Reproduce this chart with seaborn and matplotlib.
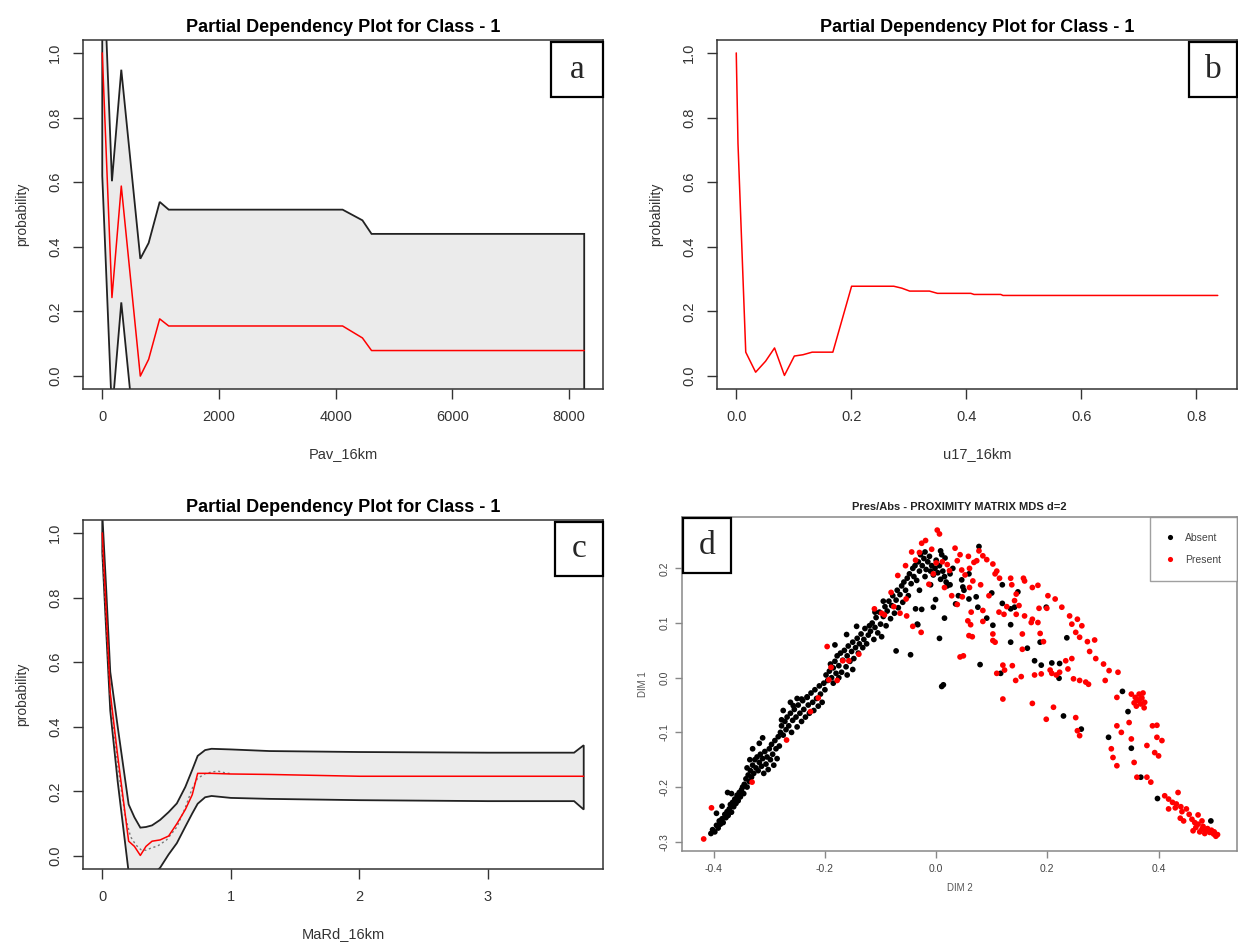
# Partial dependency plots (a-c) and proximity MDS scatter (d)
import numpy as np
import pandas as pd
import matplotlib
matplotlib.use("Agg")
import matplotlib.pyplot as plt
from matplotlib.patches import Rectangle
import seaborn as sns

# ---- panel a : Pav_16km
pav_x = [0, 166, 326, 652, 795, 984, 1139, 4118, 4458, 4614, 8258]
pav_mean = [1.0, 0.243, 0.588, 0.0, 0.052, 0.177, 0.155, 0.155, 0.118, 0.079, 0.079]
pav_upper = [1.38, 0.603, 0.948, 0.363, 0.412, 0.539, 0.515, 0.515, 0.482, 0.44, 0.44]
pav_lower = [0.62, -0.117, 0.228, -0.363, -0.308, -0.185, -0.205, -0.205, -0.246, -0.282, -0.282]

# ---- panel b : u17_16km
u17_x = [0, 0.003, 0.0165, 0.0337, 0.051, 0.0666, 0.0838, 0.101, 0.116, 0.132, 0.168, 0.2006,
         0.274, 0.288, 0.3016, 0.336, 0.35, 0.408, 0.4136, 0.46, 0.464, 0.8375]
u17_mean = [1.0, 0.72, 0.074, 0.012, 0.046, 0.087, 0.002, 0.062, 0.066, 0.074, 0.074, 0.278,
            0.278, 0.272, 0.263, 0.263, 0.256, 0.256, 0.2526, 0.2526, 0.2495, 0.2495]

# ---- panel c : MaRd_16km
mard_x = [0, 0.03, 0.062, 0.12, 0.205, 0.25, 0.296, 0.34, 0.387, 0.45, 0.516, 0.58, 0.646, 0.70,
          0.742, 0.80, 0.85, 1.0, 1.3, 2.0, 3.0, 3.67, 3.745]
mard_mean = [1.0, 0.76, 0.505, 0.31, 0.046, 0.03, 0.002, 0.03, 0.046, 0.05, 0.062, 0.10, 0.144,
             0.19, 0.256, 0.256, 0.256, 0.254, 0.2526, 0.247, 0.247, 0.247, 0.247]
mard_upper = [1.06, 0.83, 0.57, 0.40, 0.16, 0.12, 0.088, 0.09, 0.095, 0.112, 0.136, 0.163, 0.214,
              0.267, 0.31, 0.328, 0.332, 0.33, 0.325, 0.322, 0.32, 0.32, 0.343]
mard_lower = [0.94, 0.70, 0.45, 0.23, -0.05, -0.08, -0.1, -0.09, -0.06, -0.036, 0.005, 0.04, 0.091,
              0.132, 0.162, 0.182, 0.186, 0.18, 0.177, 0.173, 0.17, 0.17, 0.144]
mard_dot_x = [0, 0.03, 0.062, 0.12, 0.18, 0.22, 0.26, 0.30, 0.34, 0.38, 0.43, 0.50, 0.58, 0.646,
              0.70, 0.74, 0.80, 0.85, 0.90, 0.95, 1.0]
mard_dot_y = [0.97, 0.74, 0.50, 0.28, 0.12, 0.06, 0.035, 0.02, 0.018, 0.025, 0.031, 0.05, 0.09, 0.15,
              0.21, 0.24, 0.255, 0.26, 0.263, 0.258, 0.255]

# ---- panel d : MDS coordinates (DIM 2, DIM 1)
absent_dim2 = [
    -0.405, -0.402, -0.398, -0.395, -0.392, -0.390, -0.388, -0.385, -0.383, -0.380, -0.378, -0.376,
    -0.374, -0.372, -0.370, -0.368, -0.366, -0.364, -0.362, -0.360, -0.358, -0.356, -0.354, -0.352,
    -0.350, -0.348, -0.346, -0.385, -0.375, -0.395, -0.368,
    -0.345, -0.342, -0.340, -0.338, -0.336, -0.334, -0.332, -0.330, -0.328, -0.326, -0.324, -0.322,
    -0.320, -0.318, -0.316, -0.314, -0.312, -0.310, -0.308, -0.306, -0.304, -0.302, -0.300, -0.298,
    -0.296, -0.294, -0.292, -0.290, -0.288, -0.286, -0.284, -0.282, -0.280, -0.318, -0.330, -0.312,
    -0.335, -0.340,
    -0.278, -0.275, -0.272, -0.270, -0.268, -0.265, -0.262, -0.260, -0.258, -0.255, -0.252, -0.250,
    -0.248, -0.245, -0.242, -0.240, -0.238, -0.235, -0.232, -0.230, -0.228, -0.225, -0.222, -0.220,
    -0.218, -0.215, -0.212, -0.210, -0.208, -0.205, -0.202, -0.200, -0.262, -0.250, -0.275,
    -0.257, -0.242, -0.232, -0.278,
    -0.198, -0.195, -0.192, -0.190, -0.188, -0.185, -0.182, -0.180, -0.178, -0.175, -0.172, -0.170,
    -0.168, -0.165, -0.162, -0.160, -0.158, -0.155, -0.152, -0.150, -0.148, -0.145, -0.142, -0.140,
    -0.138, -0.135, -0.132, -0.130, -0.128, -0.125, -0.122, -0.120, -0.185, -0.175, -0.160, -0.150,
    -0.143, -0.161, -0.182,
    -0.118, -0.115, -0.112, -0.110, -0.108, -0.105, -0.102, -0.100, -0.098, -0.095, -0.092, -0.090,
    -0.088, -0.085, -0.082, -0.080, -0.078, -0.075, -0.072, -0.070, -0.068, -0.065, -0.062, -0.060,
    -0.058, -0.055, -0.052, -0.050, -0.110, -0.095,
    -0.048, -0.045, -0.042, -0.040, -0.038, -0.035, -0.032, -0.030, -0.028, -0.025, -0.022, -0.020,
    -0.018, -0.015, -0.012, -0.010, -0.008, -0.005, -0.002, 0.000, 0.003, 0.006, 0.008, 0.010,
    0.012, 0.015, 0.018, 0.020, 0.025, -0.030, -0.020, -0.010,
    -0.072, -0.046, 0.006, 0.013, 0.010, -0.005, -0.001, -0.034, -0.026, 0.015, 0.079, 0.077,
    0.046, 0.048, 0.059, 0.072, 0.075, 0.091, 0.102, 0.100, 0.119, 0.119, 0.134, 0.134,
    0.141, 0.147, 0.134, 0.164, 0.187, 0.177, 0.189, 0.208, 0.221, 0.222, 0.235, 0.198,
    0.229, 0.261, 0.310, 0.335, 0.345, 0.351, 0.368, 0.398, 0.494, 0.116, 0.008, 0.016,
    0.059, -0.037, -0.033, 0.030, 0.040, 0.050, 0.025, 0.035,
]
absent_dim1 = [
    -0.285, -0.278, -0.282, -0.270, -0.275, -0.262, -0.268, -0.258, -0.265, -0.250, -0.256, -0.245,
    -0.252, -0.240, -0.232, -0.246, -0.228, -0.236, -0.222, -0.230, -0.215, -0.225, -0.210, -0.218,
    -0.205, -0.200, -0.212, -0.235, -0.210, -0.248, -0.212,
    -0.195, -0.185, -0.200, -0.178, -0.190, -0.170, -0.182, -0.160, -0.175, -0.150, -0.165, -0.145,
    -0.170, -0.155, -0.140, -0.162, -0.148, -0.175, -0.135, -0.158, -0.145, -0.168, -0.130, -0.150,
    -0.122, -0.140, -0.160, -0.115, -0.130, -0.148, -0.108, -0.125, -0.100, -0.120, -0.130, -0.110,
    -0.150, -0.165,
    -0.088, -0.105, -0.080, -0.095, -0.072, -0.088, -0.065, -0.100, -0.078, -0.058, -0.072, -0.090,
    -0.050, -0.065, -0.080, -0.042, -0.058, -0.072, -0.035, -0.050, -0.065, -0.028, -0.045, -0.060,
    -0.022, -0.038, -0.052, -0.015, -0.030, -0.045, -0.010, -0.022, -0.045, -0.038, -0.060,
    -0.051, -0.039, -0.036, -0.077,
    0.005, -0.005, 0.012, 0.025, 0.000, 0.018, 0.030, 0.008, 0.040, 0.022, 0.045, 0.010,
    0.032, 0.050, 0.020, 0.040, 0.058, 0.030, 0.048, 0.065, 0.035, 0.055, 0.072, 0.045,
    0.062, 0.080, 0.055, 0.070, 0.090, 0.062, 0.078, 0.095, -0.010, 0.000, 0.005, 0.015,
    0.094, 0.079, 0.060,
    0.085, 0.100, 0.070, 0.092, 0.110, 0.082, 0.120, 0.098, 0.075, 0.112, 0.130, 0.095,
    0.122, 0.140, 0.108, 0.132, 0.150, 0.118, 0.142, 0.160, 0.128, 0.152, 0.168, 0.138,
    0.175, 0.160, 0.182, 0.150, 0.120, 0.140,
    0.190, 0.172, 0.200, 0.185, 0.205, 0.178, 0.212, 0.195, 0.225, 0.205, 0.218, 0.230,
    0.198, 0.212, 0.222, 0.195, 0.205, 0.188, 0.200, 0.215, 0.192, 0.205, 0.180, 0.225,
    0.195, 0.185, 0.175, 0.168, 0.190, 0.160, 0.185, 0.170,
    0.049, 0.042, 0.072, -0.013, -0.016, 0.129, 0.143, 0.098, 0.125, 0.109, 0.024, 0.240,
    0.179, 0.166, 0.144, 0.148, 0.129, 0.109, 0.096, 0.155, 0.170, 0.136, 0.126, 0.097,
    0.129, 0.157, 0.065, 0.054, 0.065, 0.031, 0.023, 0.027, -0.001, 0.026, 0.073, 0.129,
    -0.070, -0.094, -0.109, -0.025, -0.062, -0.129, -0.182, -0.221, -0.262, 0.008, 0.232, 0.219,
    0.190, 0.126, 0.097, 0.200, 0.150, 0.160, 0.170, 0.135,
]
present_dim2 = [
    -0.418, -0.404, -0.331, -0.269, -0.226, -0.212, -0.196, -0.189, -0.193, -0.178, -0.168, -0.157,
    -0.139, -0.111, -0.098, -0.093, -0.081, -0.076, -0.069, -0.065, -0.054, -0.053, -0.042, -0.027,
    -0.044, -0.037, -0.026, -0.019, -0.030, -0.013, 0.002, 0.006, -0.008, 0.011, 0.020, 0.024,
    0.034, 0.038, 0.043, 0.046, 0.052, 0.058, 0.060, 0.066, 0.068, 0.073, 0.077, 0.084,
    0.091, 0.102, 0.109, 0.114, 0.106, 0.134, 0.136, 0.157, 0.159, 0.173, 0.183,
    0.201, 0.214, 0.226, 0.240, 0.254, 0.244, 0.251, 0.262, 0.258, 0.272, 0.285, 0.276,
    0.287, 0.301, 0.311, 0.327, 0.304, 0.325,
    0.351, 0.358, 0.365, 0.370, 0.375, 0.368, 0.362, 0.356, 0.372, 0.366, 0.360, 0.374,
    0.325, 0.333, 0.347, 0.351, 0.315, 0.318, 0.325, 0.356, 0.361, 0.379, 0.386, 0.389,
    0.397, 0.397, 0.406, 0.379, 0.393, 0.400,
    0.411, 0.418, 0.418, 0.425, 0.432, 0.435, 0.439, 0.442, 0.450, 0.455, 0.460, 0.471,
    0.471, 0.478, 0.485, 0.492, 0.499, 0.506, 0.467, 0.478, 0.474, 0.480, 0.488, 0.495,
    0.465, 0.445, 0.440, 0.430, 0.462, 0.483, 0.500, 0.503,
    0.038, 0.047, 0.057, 0.065, 0.059, 0.049, 0.062, 0.102, 0.106, 0.109, 0.120, 0.123,
    0.143, 0.153, 0.120, 0.173, 0.173, 0.183, 0.185, 0.199, 0.187, 0.205, 0.216, 0.211,
    0.198, 0.233, 0.244, 0.237, 0.247, 0.258, 0.269, 0.274, 0.251, 0.254, 0.258, 0.144,
    0.141, 0.149, 0.155, 0.159, 0.171, 0.193, 0.208, 0.222, 0.155, 0.102, 0.043, 0.137,
    0.177, 0.189, 0.084, 0.113, 0.063, 0.084, 0.122, 0.127, 0.144, 0.095, 0.080, 0.060,
    0.028, 0.015, -0.005, 0.000, -0.055,
]
present_dim1 = [
    -0.295, -0.238, -0.191, -0.114, -0.062, -0.037, 0.057, 0.019, -0.004, -0.005, 0.031, 0.031,
    0.043, 0.126, 0.118, 0.115, 0.156, 0.130, 0.187, 0.118, 0.144, 0.113, 0.094, 0.083,
    0.230, 0.215, 0.246, 0.251, 0.229, 0.171, 0.270, 0.263, 0.235, 0.212, 0.207, 0.196,
    0.237, 0.214, 0.225, 0.197, 0.188, 0.222, 0.200, 0.177, 0.211, 0.214, 0.232, 0.223,
    0.216, 0.208, 0.195, 0.182, 0.190, 0.182, 0.170, 0.182, 0.177, 0.165, 0.169,
    0.150, 0.144, 0.129, 0.113, 0.107, 0.098, 0.083, 0.095, 0.074, 0.066, 0.069, 0.048,
    0.035, 0.025, 0.013, 0.010, -0.005, -0.036,
    -0.030, -0.036, -0.030, -0.037, -0.045, -0.048, -0.042, -0.046, -0.028, -0.040, -0.052, -0.055,
    -0.088, -0.100, -0.082, -0.112, -0.130, -0.146, -0.161, -0.155, -0.182, -0.182, -0.191, -0.088,
    -0.087, -0.109, -0.115, -0.124, -0.137, -0.143,
    -0.216, -0.222, -0.240, -0.228, -0.231, -0.210, -0.257, -0.245, -0.240, -0.250, -0.259, -0.251,
    -0.268, -0.277, -0.280, -0.283, -0.286, -0.287, -0.274, -0.262, -0.282, -0.272, -0.276, -0.279,
    -0.265, -0.262, -0.236, -0.238, -0.280, -0.285, -0.282, -0.290,
    0.134, 0.148, 0.104, 0.075, 0.077, 0.040, 0.097, 0.068, 0.065, 0.008, 0.023, 0.014,
    -0.005, 0.002, -0.039, -0.047, 0.107, 0.101, 0.127, 0.127, 0.081, 0.014, 0.005, -0.054,
    -0.076, 0.031, 0.035, 0.016, -0.002, -0.005, -0.008, -0.012, -0.073, -0.097, -0.106, 0.153,
    0.141, 0.132, 0.080, 0.113, 0.101, 0.066, 0.008, 0.010, 0.052, 0.080, 0.038, 0.022,
    0.005, 0.007, 0.103, 0.120, 0.120, 0.123, 0.116, 0.130, 0.116, 0.150, 0.170, 0.165,
    0.150, 0.165, 0.190, 0.210, 0.205,
]

sns.set_style("white")
plt.rcParams['font.family'] = ['Liberation Sans', 'DejaVu Sans']

W, H = 1238, 943
fig = plt.figure(figsize=(W / 100, H / 100), dpi=100)


def px_axes(left, right, top, bottom):
    return fig.add_axes([left / W, 1 - bottom / H, (right - left) / W, (bottom - top) / H])


def style_pdp(ax, xlabel, xlim, xticks):
    ax.set_xlim(*xlim)
    ax.set_ylim(-0.04, 1.04)
    ax.set_xticks(xticks)
    ax.set_yticks([0.0, 0.2, 0.4, 0.6, 0.8, 1.0])
    ax.set_yticklabels(["0.0", "0.2", "0.4", "0.6", "0.8", "1.0"])
    for s in ax.spines.values():
        s.set_visible(True)
        s.set_color('#333333')
        s.set_linewidth(1.1)
    ax.tick_params(axis='both', direction='out', length=7, width=1, color='#333333',
                   labelsize=10.5, labelcolor='#333333', pad=8, bottom=True, left=True)
    ax.tick_params(axis='y', labelrotation=90)
    for lab in ax.get_yticklabels():
        lab.set_va('center')
    ax.set_title("Partial Dependency Plot for Class - 1", fontsize=13, fontweight='bold',
                 color='black', pad=6)
    ax.set_xlabel(xlabel, fontsize=10.5, color='#333333')
    ax.set_ylabel("probability", fontsize=10, color='#333333')
    ax.xaxis.set_label_coords(0.5, -0.165)
    ax.yaxis.set_label_coords(-0.104, 0.5)


def letter_box(ax, x0, y0, x1, y1, letter):
    ax.add_patch(Rectangle((x0, y0), x1 - x0, y1 - y0, transform=ax.transAxes, facecolor='white',
                           edgecolor='black', linewidth=1.6, zorder=10, clip_on=False))
    ax.text((x0 + x1) / 2, (y0 + y1) / 2, letter, transform=ax.transAxes, ha='center',
            va='center', fontsize=24, family='Liberation Serif', zorder=11)


def band(ax, x, upper, lower):
    x = np.asarray(x)
    ax.fill(np.r_[x, x[::-1]], np.r_[upper, lower[::-1]], facecolor='#EBEBEB',
            edgecolor='#222222', linewidth=1.3, zorder=1)


# panel a
ax_a = px_axes(83, 603, 40, 389)
band(ax_a, pav_x, pav_upper, pav_lower)
sns.lineplot(x=pav_x, y=pav_mean, color='red', linewidth=1.1, sort=False, estimator=None, ax=ax_a,
             zorder=3)
style_pdp(ax_a, "Pav_16km", (-330, 8580), [0, 2000, 4000, 6000, 8000])
letter_box(ax_a, 0.9, 0.837, 1.0, 0.994, "a")

# panel b
ax_b = px_axes(717, 1237, 40, 389)
sns.lineplot(x=u17_x, y=u17_mean, color='red', linewidth=1.1, sort=False, estimator=None, ax=ax_b)
style_pdp(ax_b, "u17_16km", (-0.0335, 0.871), [0.0, 0.2, 0.4, 0.6, 0.8])
ax_b.set_xticklabels(["0.0", "0.2", "0.4", "0.6", "0.8"])
letter_box(ax_b, 0.908, 0.837, 1.0, 0.994, "b")

# panel c
ax_c = px_axes(83, 603, 520, 869)
band(ax_c, mard_x, mard_upper, mard_lower)
ax_c.plot(mard_dot_x, mard_dot_y, color='#777777', linestyle=(0, (1.5, 2)), linewidth=1, zorder=2)
sns.lineplot(x=mard_x, y=mard_mean, color='red', linewidth=1.1, sort=False, estimator=None, ax=ax_c,
             zorder=3)
style_pdp(ax_c, "MaRd_16km", (-0.15, 3.895), [0, 1, 2, 3])
letter_box(ax_c, 0.908, 0.84, 1.0, 0.994, "c")

# panel d
mds = pd.DataFrame({
    'DIM 2': absent_dim2 + present_dim2,
    'DIM 1': absent_dim1 + present_dim1,
    'status': ['Absent'] * len(absent_dim2) + ['Present'] * len(present_dim2),
})
ax_d = px_axes(682, 1237, 517, 851)
sns.scatterplot(data=mds, x='DIM 2', y='DIM 1', hue='status', hue_order=['Absent', 'Present'],
                palette={'Absent': 'black', 'Present': 'red'}, s=17, linewidth=0, ax=ax_d)
ax_d.set_xlim(-0.457, 0.541)
ax_d.set_ylim(-0.317, 0.294)
ax_d.set_xticks([-0.4, -0.2, 0.0, 0.2, 0.4])
ax_d.set_xticklabels(["-0.4", "-0.2", "0.0", "0.2", "0.4"])
ax_d.set_yticks([-0.3, -0.2, -0.1, 0.0, 0.1, 0.2])
ax_d.set_yticklabels(["-0.3", "-0.2", "-0.1", "0.0", "0.1", "0.2"])
for s in ax_d.spines.values():
    s.set_visible(True)
    s.set_color('#888888')
    s.set_linewidth(1.1)
ax_d.tick_params(axis='both', direction='out', length=5, width=1, color='#888888', labelsize=7.5,
                 labelcolor='#444444', pad=4, bottom=True, left=True)
ax_d.tick_params(axis='y', labelrotation=90)
for lab in ax_d.get_yticklabels():
    lab.set_va('center')
ax_d.set_title("Pres/Abs - PROXIMITY MATRIX MDS d=2", fontsize=8, fontweight='bold',
               color='#222222', pad=5)
ax_d.set_xlabel("DIM 2", fontsize=7, color='#555555')
ax_d.set_ylabel("DIM 1", fontsize=7, color='#555555')
ax_d.xaxis.set_label_coords(0.5, -0.095)
ax_d.yaxis.set_label_coords(-0.062, 0.5)
handles, labels = ax_d.get_legend_handles_labels()
leg = ax_d.legend(handles, labels, loc='upper right', borderaxespad=0, fontsize=7.5, frameon=True,
                  fancybox=False, edgecolor='#888888', labelspacing=1.2, borderpad=1.5,
                  handlelength=0.9, handletextpad=1.0, markerscale=0.9)
leg.get_frame().set_linewidth(1.0)
for t in leg.get_texts():
    t.set_color('#444444')
letter_box(ax_d, 0.002, 0.832, 0.088, 0.997, "d")

fig.savefig("out.png", dpi=100)
